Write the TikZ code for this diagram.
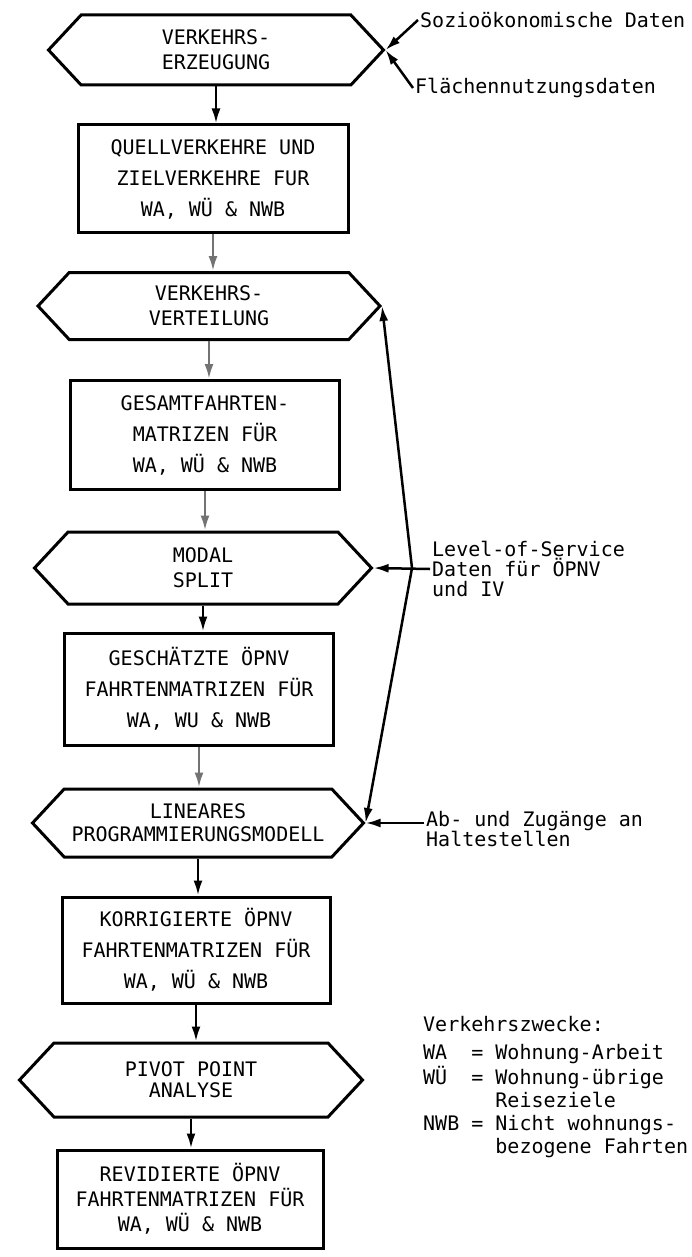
\documentclass[tikz,border=0pt]{standalone}
\usepackage{fontspec}
\newfontfamily\plotfont{DejaVu Sans Mono}
\usepackage{tikz}
\usetikzlibrary{shapes, shapes.symbols}
\usetikzlibrary{arrows.meta}
\usetikzlibrary{positioning}
\usetikzlibrary{calc}
\tikzstyle{line} = [draw, line width=2.5pt, ->]
\definecolor{pfeilgrau}{gray}{0.45}

\begin{document}
\begin{tikzpicture}[x=1pt, y=-1pt, >={Latex[length=15pt,width=9pt]},
			internal/.style={draw, rectangle, line width=3pt, inner sep=0pt, align=center, font=\plotfont\fontsize{20}{31}\selectfont},
			process/.style={draw, signal, signal to=east and west, signal pointer angle=94, line width=3pt, inner sep=0pt, align=center, font=\plotfont\fontsize{20}{25}\selectfont},
			side/.style={inner sep=2pt, anchor=west, align=left, font=\plotfont\fontsize{20}{20}\selectfont}]
			\useasboundingbox (0,0) rectangle (692,1257);
			
			\node[process, minimum width=335pt, minimum height=70pt](node1) at (216, 50) {VERKEHRS-\\ERZEUGUNG};
			\node[internal, minimum width=270pt, minimum height=108pt](node2) at (213, 179) {QUELLVERKEHRE UND\\ZIELVERKEHRE FUR\\WA, WÜ \& NWB};
			\node[process, minimum width=342pt, minimum height=67pt](node3) at (209, 306) {VERKEHRS-\\VERTEILUNG};
			\node[internal, minimum width=269pt, minimum height=109pt](node4) at (205, 435) {GESAMTFAHRTEN-\\MATRIZEN FÜR\\WA, WÜ \& NWB};
			\node[process, minimum width=337pt, minimum height=72pt](node5) at (203, 568) {MODAL\\SPLIT};
			\node[internal, minimum width=269pt, minimum height=112pt](node6) at (199, 689) {GESCHÄTZTE ÖPNV\\FAHRTENMATRIZEN FÜR\\WA, WU \& NWB};
			\node[process, minimum width=331pt, minimum height=68pt, font=\plotfont\fontsize{20}{23}\selectfont](node7) at (198, 823) {LINEARES\\PROGRAMMIERUNGSMODELL};
			\node[internal, minimum width=268pt, minimum height=106pt](node8) at (196, 950) {KORRIGIERTE ÖPNV\\FAHRTENMATRIZEN FÜR\\WA, WÜ \& NWB};
			\node[process, minimum width=343pt, minimum height=74pt, font=\plotfont\fontsize{20}{21}\selectfont](node9) at (191, 1080) {PIVOT POINT\\ANALYSE};
			\node[internal, minimum width=266pt, minimum height=98pt, font=\plotfont\fontsize{20}{25}\selectfont](node10) at (190, 1199) {REVIDIERTE ÖPNV\\FAHRTENMATRIZEN FÜR\\WA, WÜ \& NWB};
			
			\draw[line] (node1.south) -- (node1.south |- node2.north);
			\draw[line, pfeilgrau] (node2.south) -- (node2.south |- node3.north);
			\draw[line, pfeilgrau] (node3.south) -- (node3.south |- node4.north);
			\draw[line, pfeilgrau] (node4.south) -- (node4.south |- node5.north);
			\draw[line] (node5.south) -- (node5.south |- node6.north);
			\draw[line, pfeilgrau] (node6.south) -- (node6.south |- node7.north);
			\draw[line] (node7.south) -- (node7.south |- node8.north);
			\draw[line] (node8.south) -- (node8.south |- node9.north);
			\draw[line] (node9.south) -- (node9.south |- node10.north);
			
			% Eingangsdaten
			\node[side](node11) at (418, 20) {Sozioökonomische Daten};
			\node[side](node12) at (413, 88) {Flächennutzungsdaten};
			\draw[line] (node11.west) -- (node1.east);
			\draw[line] (node12.west) -- (node1.east);
			
			\node[side](node13) at (430, 569) {Level-of-Service\\Daten für ÖPNV\\und IV};
			\coordinate (knick) at (412, 568);
			\draw[line] (node13.west) -- (node5.east);
			\draw[line, <->] (node3.east) -- (knick) -- (node7.east);
			
			\node[side](node14) at (424, 829) {Ab- und Zugänge an\\Haltestellen};
			\draw[line] (node14.west |- node7.east) -- (node7.east);
			
			\node[side, anchor=north west, inner sep=0pt, font=\plotfont\fontsize{20}{23}\selectfont](node15) at (423, 1015) {%
				\begin{tabular}{@{}l@{ }c@{ }l@{}}
					\multicolumn{3}{@{}l}{Verkehrszwecke:}\\[5pt]
					WA & = & Wohnung-Arbeit\\
					WÜ & = & Wohnung-übrige\\
					 & & Reiseziele\\
					NWB & = & Nicht wohnungs-\\
					 & & bezogene Fahrten
				\end{tabular}};
		\end{tikzpicture}
\end{document}
